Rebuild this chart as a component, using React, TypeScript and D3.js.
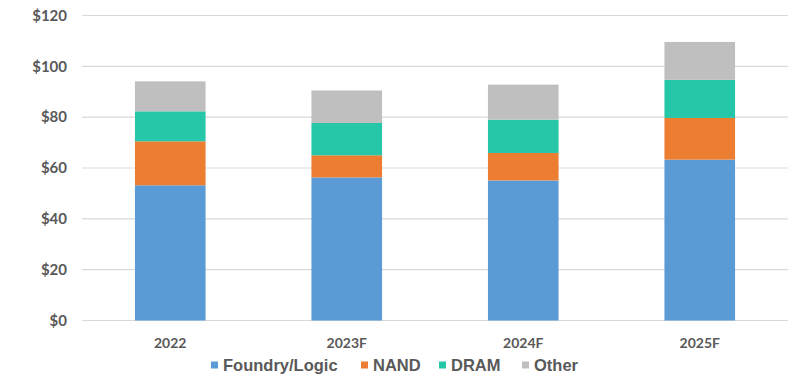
import * as d3 from "d3";
import React from "react";

const years = ["2022", "2023F", "2024F", "2025F"];
const seriesNames = ["Foundry/Logic", "NAND", "DRAM", "Other"];
const foundry = [53.2, 56.3, 55.1, 63.3];
const nand = [17.3, 8.7, 10.8, 16.4];
const dram = [11.8, 12.7, 13.1, 15.0];
const other = [11.8, 12.8, 13.8, 14.9];
const yTicks = [0, 20, 40, 60, 80, 100, 120];
const colors = ["#5B9BD5", "#ED7D31", "#26C6A9", "#BFBFBF"];

const width = 802;
const height = 384;
const left = 82;
const right = 788;
const top = 15.5;
const bottom = 320.5;

const App: React.FC = () => {
    const rows = years.map((y, i) => ({
        year: y,
        [seriesNames[0]]: foundry[i],
        [seriesNames[1]]: nand[i],
        [seriesNames[2]]: dram[i],
        [seriesNames[3]]: other[i],
    }));
    const stack = d3.stack<any>().keys(seriesNames)(rows);
    const x = d3.scaleBand().domain(years).range([left, right]).paddingInner(0.6).paddingOuter(0.3);
    const y = d3.scaleLinear().domain([0, 120]).range([bottom, top]);
    const color = d3.scaleOrdinal<string>().domain(seriesNames).range(colors);

    // legend square positions
    const legendX = [211, 361, 439, 522];

    return (
        <svg width={width} height={height} style={{ position: "absolute", left: 0, top: 0, background: "white" }}>
            {yTicks.map(t => (
                <g key={t}>
                    <line x1={left} x2={right} y1={y(t)} y2={y(t)} stroke="#D9D9D9" strokeWidth={1.2} />
                    <text x={67} y={y(t)} dy="0.35em" textAnchor="end" fontFamily="Lato" fontWeight="bold" fontSize={15} fill="#595959">
                        {"$" + t}
                    </text>
                </g>
            ))}
            {stack.map(s => (
                <g key={s.key} fill={color(s.key)}>
                    {s.map((d, i) => (
                        <rect key={i} x={x(years[i])} width={x.bandwidth()} y={y(d[1])} height={y(d[0]) - y(d[1])} />
                    ))}
                </g>
            ))}
            {years.map(yr => (
                <text key={yr} x={x(yr)! + x.bandwidth() / 2} y={343} dy="0.35em" textAnchor="middle" fontFamily="Lato" fontWeight="bold" fontSize={14} fill="#595959">
                    {yr}
                </text>
            ))}
            {seriesNames.map((n, i) => (
                <g key={n} transform={`translate(${legendX[i]}, 365)`}>
                    <rect x={0} y={-3.5} width={7} height={7} fill={colors[i]} />
                    <text x={12} y={0} dy="0.35em" fontFamily="Liberation Sans, Arial" fontWeight="bold" fontSize={16.5} fill="#595959">
                        {n}
                    </text>
                </g>
            ))}
        </svg>
    );
};

export default App;
